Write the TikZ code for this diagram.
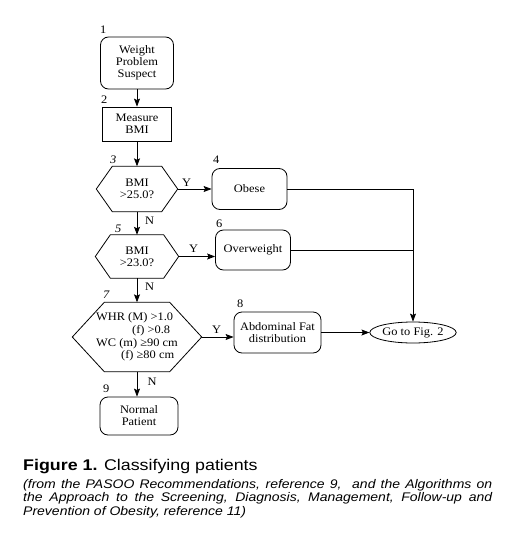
\documentclass[tikz,border=0pt]{standalone}
\usepackage{fontspec}
\setmainfont{Liberation Serif}[FakeStretch=1.08]
\newfontfamily\capfont{Liberation Sans}[FakeStretch=1.15]
\newfontfamily\subfont{Liberation Sans}[FakeStretch=1.12]
\usetikzlibrary{arrows.meta,calc,shapes.geometric}
\newcommand\drawhexa[2]{\draw[ln] (#1.west) -- ($(#1.north west)+(#2,0)$) -- ($(#1.north east)+(-#2,0)$) -- (#1.east) -- ($(#1.south east)+(-#2,0)$) -- ($(#1.south west)+(#2,0)$) -- cycle;}
\begin{document}
\begin{tikzpicture}[x=1pt,y=-1pt,
  every node/.style={font=\fontsize{11.5}{12}\selectfont, inner sep=0pt, align=center},
  rbox/.style={draw, rounded corners=8pt, line width=0.8pt},
  sbox/.style={draw, line width=0.8pt},
  lbl/.style={anchor=base west},
  ilbl/.style={anchor=base west, font=\fontsize{11.5}{12}\selectfont\itshape},
  yn/.style={anchor=base},
  arr/.style={-{Stealth[length=8pt,width=6pt,inset=1.5pt]}, line width=0.8pt},
  ln/.style={line width=0.8pt},
  subline/.style={anchor=base west, align=left, font=\subfont\itshape\fontsize{12.5}{14}\selectfont}
]
\useasboundingbox (0,0) rectangle (517,533);
\fill[white] (0,0) rectangle (517,533);

% main column
\node[rbox, minimum width=73pt, minimum height=52pt] (n1) at (137,63) {Weight\\Problem\\Suspect};
\node[sbox, minimum width=69pt, minimum height=34pt] (n2) at (137,124) {Measure\\BMI};
\node[minimum width=81pt, minimum height=45pt] (n3) at (137,189) {BMI\\>25.0?};
\drawhexa{n3}{16}
\node[minimum width=83pt, minimum height=43pt] (n5) at (137,256.5) {BMI\\>23.0?};
\drawhexa{n5}{15}
\node[minimum width=129pt, minimum height=69pt, align=left, font=\fontsize{11.5}{12.7}\selectfont] (n7) at (137,337)
  {WHR (M) >1.0\\\hspace*{36pt}(f) >0.8\\WC (m) ≥90 cm\\\hspace*{25pt}(f) ≥80 cm};
\drawhexa{n7}{32}
\node[rbox, minimum width=78pt, minimum height=38pt] (n9) at (139,416) {Normal\\Patient};

% right side
\node[rbox, minimum width=75pt, minimum height=41pt] (n4) at (249.5,189) {Obese};
\node[rbox, minimum width=75pt, minimum height=40pt] (n6) at (253,250) {Overweight};
\node[rbox, minimum width=87pt, minimum height=41pt] (n8) at (277.5,332.5) {Abdominal Fat\\distribution};
\node[draw, ellipse, line width=0.8pt, minimum width=77pt, minimum height=21pt] (ell) at (413,332.5) {Go to Fig. 2};

% numbers
\node[lbl] (l1) at (100,33) {1};
\node[lbl] (l2) at (101,103) {2};
\node[ilbl] (l3) at (110,163) {3};
\node[lbl] (l4) at (213,163) {4};
\node[ilbl] (l5) at (115,232) {5};
\node[lbl] (l6) at (216,227) {6};
\node[ilbl] (l7) at (103,298) {7};
\node[lbl] (l8) at (237,307) {8};
\node[lbl] (l9) at (103,392) {9};

% Y / N
\node[yn] (y1) at (186.5,186) {Y};
\node[yn] (no1) at (149.5,224) {N};
\node[yn] (y2) at (193.5,252) {Y};
\node[yn] (no2) at (149.5,290) {N};
\node[yn] (y3) at (216.5,333) {Y};
\node[yn] (no3) at (152,385.5) {N};

% connectors
\draw[arr] (n1) -- (n2);
\draw[arr] (n2) -- (n3);
\draw[arr] (n3) -- (n5);
\draw[arr] (n5) -- (n7);
\draw[arr] (n7.south) -- (n7.south |- n9.north);
\draw[arr] (n3.east) -- (n3.east -| n4.west);
\draw[arr] (n5.east) -- (n5.east -| n6.west);
\draw[arr] (n7.east) -- (n7.east -| n8.west);
\draw[arr] (n8.east) -- (ell.west);
\draw[ln] (n4.east) -- (n4.east -| ell.north);
\draw[ln] (n6.east) -- (n6.east -| ell.north);
\draw[arr] (n4.east -| ell.north) -- (ell.north);

% caption
\node[anchor=base west, font=\capfont\fontsize{15.5}{18}\selectfont] (cap) at (23,470) {\textbf{Figure 1.} Classifying patients};
\node[subline] (sub1) at (23,488) {\makebox[469pt][s]{(from the PASOO Recommendations, reference 9, \ and the Algorithms on}};
\node[subline] (sub2) at (23,501.5) {\makebox[469pt][s]{the Approach to the Screening, Diagnosis, Management, Follow-up and}};
\node[subline] (sub3) at (23,515) {Prevention of Obesity, reference 11)};
\end{tikzpicture}
\end{document}
